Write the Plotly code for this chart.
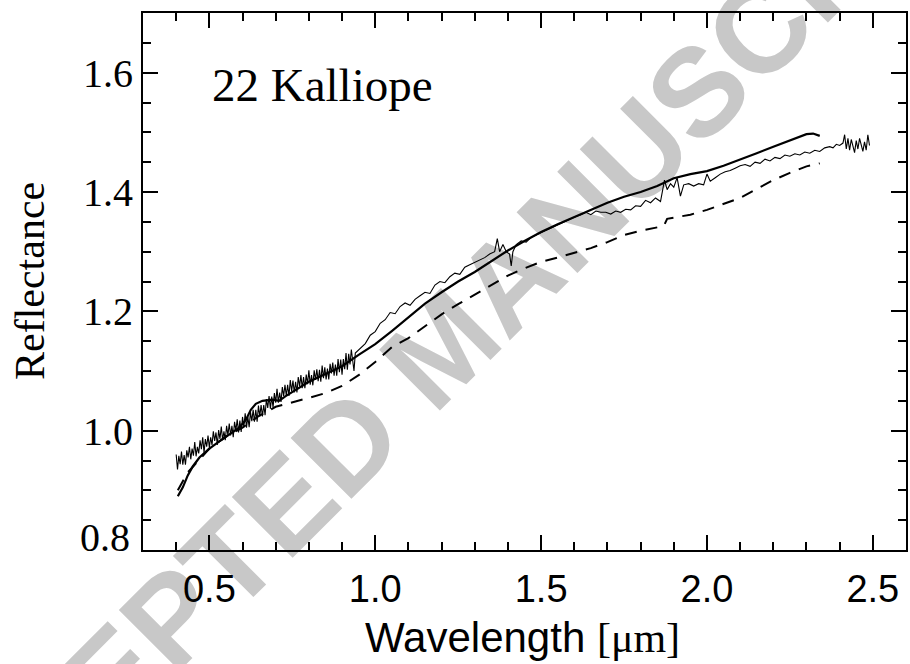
import plotly.graph_objects as go

# ---------------- data ----------------
vis_x = [0.400, 0.404, 0.408, 0.412, 0.416, 0.420, 0.424, 0.428, 0.432, 0.436,
         0.440, 0.444, 0.448, 0.452, 0.456, 0.460, 0.464, 0.468, 0.472, 0.476,
         0.480, 0.484, 0.488, 0.492, 0.496, 0.500, 0.504, 0.508, 0.512, 0.516,
         0.520, 0.524, 0.528, 0.532, 0.536, 0.540, 0.544, 0.548, 0.552, 0.556,
         0.560, 0.564, 0.568, 0.572, 0.576, 0.580, 0.584, 0.588, 0.592, 0.596,
         0.600, 0.604, 0.608, 0.612, 0.616, 0.620, 0.624, 0.628, 0.632, 0.636,
         0.640, 0.644, 0.648, 0.652, 0.656, 0.660, 0.664, 0.668, 0.672, 0.676,
         0.680, 0.684, 0.688, 0.692, 0.696, 0.700, 0.704, 0.708, 0.712, 0.716,
         0.720, 0.724, 0.728, 0.732, 0.736, 0.740, 0.744, 0.748, 0.752, 0.756,
         0.760, 0.764, 0.768, 0.772, 0.776, 0.780, 0.784, 0.788, 0.792, 0.796,
         0.800, 0.804, 0.808, 0.812, 0.816, 0.820, 0.824, 0.828, 0.832, 0.836,
         0.840, 0.844, 0.848, 0.852, 0.856, 0.860, 0.864, 0.868, 0.872, 0.876,
         0.880, 0.884, 0.888, 0.892, 0.896, 0.900, 0.904, 0.908, 0.912, 0.916,
         0.920, 0.924, 0.928, 0.932, 0.936]
vis_y = [0.960, 0.935, 0.958, 0.944, 0.965, 0.943, 0.959, 0.943, 0.967, 0.955,
         0.973, 0.952, 0.970, 0.958, 0.981, 0.957, 0.973, 0.962, 0.984, 0.969,
         0.989, 0.963, 0.986, 0.973, 0.992, 0.972, 0.989, 0.976, 0.999, 0.983,
         0.997, 0.976, 1.001, 0.986, 1.007, 0.984, 0.999, 0.984, 1.008, 0.992,
         1.012, 0.992, 1.008, 0.989, 1.015, 1.000, 1.019, 0.997, 1.017, 0.998,
         1.023, 1.006, 1.029, 1.005, 1.023, 1.006, 1.031, 1.016, 1.035, 1.015,
         1.035, 1.015, 1.042, 1.024, 1.043, 1.024, 1.043, 1.026, 1.053, 1.038,
         1.058, 1.037, 1.057, 1.039, 1.063, 1.047, 1.070, 1.047, 1.064, 1.048,
         1.073, 1.058, 1.077, 1.058, 1.077, 1.058, 1.085, 1.066, 1.084, 1.064,
         1.082, 1.064, 1.090, 1.074, 1.093, 1.071, 1.090, 1.071, 1.094, 1.078,
         1.101, 1.077, 1.093, 1.076, 1.101, 1.085, 1.103, 1.083, 1.102, 1.082,
         1.109, 1.088, 1.106, 1.086, 1.104, 1.086, 1.112, 1.096, 1.114, 1.092,
         1.111, 1.092, 1.120, 1.098, 1.119, 1.094, 1.120, 1.103, 1.130, 1.102,
         1.129, 1.111, 1.136, 1.117, 1.100]

nir_x = [0.940, 0.955, 0.970, 0.985, 1.000, 1.015, 1.030, 1.045, 1.060, 1.075,
         1.090, 1.105, 1.120, 1.135, 1.150, 1.165, 1.180, 1.195, 1.210, 1.225,
         1.240, 1.255, 1.270, 1.285, 1.300, 1.315, 1.330, 1.345, 1.360, 1.368,
         1.375, 1.385, 1.395, 1.405, 1.410, 1.415, 1.425, 1.440, 1.455, 1.470,
         1.485, 1.500, 1.515, 1.530, 1.545, 1.560, 1.575, 1.590, 1.605, 1.620,
         1.635, 1.650, 1.665, 1.680, 1.695, 1.710, 1.725, 1.740, 1.755, 1.770,
         1.785, 1.800, 1.815, 1.830, 1.845, 1.860, 1.872, 1.880, 1.890, 1.900,
         1.910, 1.920, 1.930, 1.945, 1.960, 1.975, 1.990, 2.000, 2.010, 2.025,
         2.040, 2.055, 2.070, 2.085, 2.100, 2.115, 2.130, 2.145, 2.160, 2.175,
         2.190, 2.205, 2.220, 2.235, 2.250, 2.265, 2.280, 2.295, 2.310, 2.325,
         2.340, 2.355, 2.370, 2.380, 2.390, 2.400, 2.410, 2.415, 2.420, 2.425,
         2.430, 2.435, 2.440, 2.445, 2.450, 2.455, 2.460, 2.465, 2.470, 2.475,
         2.480, 2.485, 2.490]
nir_y = [1.130, 1.138, 1.146, 1.160, 1.166, 1.180, 1.186, 1.198, 1.196, 1.208,
         1.214, 1.210, 1.220, 1.226, 1.232, 1.230, 1.244, 1.250, 1.248, 1.258,
         1.264, 1.262, 1.274, 1.278, 1.282, 1.287, 1.290, 1.296, 1.300, 1.322,
         1.300, 1.312, 1.300, 1.296, 1.276, 1.300, 1.312, 1.318, 1.316, 1.324,
         1.328, 1.332, 1.336, 1.340, 1.344, 1.348, 1.352, 1.355, 1.359, 1.362,
         1.366, 1.362, 1.368, 1.366, 1.366, 1.363, 1.368, 1.366, 1.371, 1.370,
         1.377, 1.376, 1.386, 1.382, 1.390, 1.384, 1.420, 1.404, 1.414, 1.408,
         1.424, 1.393, 1.412, 1.414, 1.410, 1.414, 1.412, 1.430, 1.418, 1.424,
         1.430, 1.434, 1.436, 1.440, 1.444, 1.446, 1.443, 1.450, 1.448, 1.455,
         1.452, 1.458, 1.456, 1.462, 1.460, 1.464, 1.462, 1.467, 1.465, 1.470,
         1.468, 1.474, 1.476, 1.474, 1.480, 1.478, 1.482, 1.496, 1.472, 1.490,
         1.470, 1.488, 1.478, 1.466, 1.486, 1.472, 1.490, 1.476, 1.468, 1.484,
         1.470, 1.496, 1.478]

thick_x = [0.405, 0.420, 0.435, 0.450, 0.470, 0.500, 0.530, 0.560, 0.590, 0.610,
           0.625, 0.640, 0.660, 0.690, 0.710, 0.730, 0.760, 0.800, 0.850, 0.900,
           0.950, 1.000, 1.050, 1.100, 1.150, 1.200, 1.250, 1.300, 1.350, 1.400,
           1.450, 1.500, 1.550, 1.600, 1.650, 1.700, 1.750, 1.800, 1.850, 1.880,
           1.900, 1.950, 2.000, 2.050, 2.100, 2.150, 2.200, 2.250, 2.300, 2.320,
           2.340]
thick_y = [0.890, 0.905, 0.925, 0.940, 0.955, 0.970, 0.982, 0.993, 1.005, 1.018,
           1.035, 1.045, 1.050, 1.052, 1.050, 1.058, 1.068, 1.082, 1.095, 1.108,
           1.127, 1.145, 1.167, 1.190, 1.213, 1.232, 1.250, 1.266, 1.284, 1.302,
           1.318, 1.333, 1.346, 1.358, 1.370, 1.382, 1.392, 1.400, 1.410, 1.418,
           1.423, 1.430, 1.435, 1.444, 1.454, 1.465, 1.476, 1.487, 1.497, 1.498,
           1.494]

dash_x = [0.405, 0.435, 0.500, 0.550, 0.600, 0.650, 0.700, 0.750, 0.800, 0.850,
          0.900, 0.950, 1.000, 1.050, 1.100, 1.150, 1.200, 1.250, 1.300, 1.350,
          1.400, 1.450, 1.500, 1.550, 1.600, 1.650, 1.700, 1.750, 1.800, 1.850,
          1.870, 1.880, 1.900, 1.950, 2.000, 2.050, 2.100, 2.150, 2.200, 2.250,
          2.300, 2.340]
dash_y = [0.900, 0.930, 0.970, 0.990, 1.005, 1.025, 1.040, 1.047, 1.055, 1.063,
          1.075, 1.093, 1.115, 1.140, 1.155, 1.175, 1.195, 1.212, 1.228, 1.245,
          1.260, 1.272, 1.283, 1.290, 1.298, 1.306, 1.316, 1.328, 1.335, 1.340,
          1.343, 1.355, 1.357, 1.362, 1.370, 1.380, 1.390, 1.405, 1.420, 1.432,
          1.443, 1.448]

x_ticks = [0.5, 1.0, 1.5, 2.0, 2.5]
x_ticktext = ["0.5", "1.0", "1.5", "2.0", "2.5"]
y_ticks = [0.8, 1.0, 1.2, 1.4, 1.6]
y_ticktext = ["", "1.0", "1.2", "1.4", "1.6"]

# ---------------- figure ----------------
spec_x = vis_x + nir_x
spec_y = vis_y + nir_y

fig = go.Figure()
fig.add_trace(go.Scatter(x=dash_x, y=dash_y, mode="lines",
                         line=dict(color="black", width=2, dash="12px,9px"),
                         showlegend=False, hoverinfo="skip"))
fig.add_trace(go.Scatter(x=spec_x, y=spec_y, mode="lines",
                         line=dict(color="black", width=1.1),
                         showlegend=False, hoverinfo="skip"))
fig.add_trace(go.Scatter(x=thick_x, y=thick_y, mode="lines",
                         line=dict(color="black", width=2.2),
                         showlegend=False, hoverinfo="skip"))

serif = "Liberation Serif, Times New Roman, serif"
sans = "Liberation Sans, Arial, sans-serif"

axis_common = dict(
    showline=True, linecolor="black", linewidth=2, mirror="allticks",
    ticks="inside", tickcolor="black", tickwidth=1.5, ticklen=15,
    showgrid=False, zeroline=False,
)

fig.update_xaxes(
    range=[0.3, 2.6], tickvals=x_ticks, ticktext=x_ticktext,
    tickfont=dict(family=sans, size=38, color="black"),
    ticklabelstandoff=4,
    minor=dict(ticks="inside", dtick=0.1, tick0=0.3, ticklen=8,
               tickcolor="black", tickwidth=1.5, showgrid=False),
    **axis_common,
)
fig.update_yaxes(
    range=[0.8, 1.7], tickvals=y_ticks, ticktext=y_ticktext,
    tickfont=dict(family=serif, size=40, color="black"),
    ticklabelstandoff=0,
    minor=dict(ticks="inside", dtick=0.05, tick0=0.8, ticklen=8,
               tickcolor="black", tickwidth=1.5, showgrid=False),
    **axis_common,
)

wm_cx = (434 - 143) / 763
wm_cy = (550 - 338) / 537

fig.update_layout(
    width=910, height=664,
    margin=dict(l=143, r=4, t=13, b=114, autoexpand=False),
    paper_bgcolor="white", plot_bgcolor="rgba(0,0,0,0)",
    showlegend=False,
    shapes=[dict(
        type="rect", xref="paper", yref="paper",
        x0=wm_cx - 0.01, x1=wm_cx + 0.01, y0=wm_cy - 0.01, y1=wm_cy + 0.01,
        line=dict(width=0), fillcolor="rgba(0,0,0,0)", layer="below",
        label=dict(text="ACCEPTED MANUSCRIPT", textangle=-45,
                   textposition="middle center",
                   font=dict(family=sans, size=125, color="#c8c8c8", weight="bold")),
    )],
    annotations=[
        dict(text="22 Kalliope", xref="paper", yref="paper",
             x=(210 - 143) / 763, y=(550 - 85) / 537, xanchor="left", yanchor="middle",
             showarrow=False, font=dict(family=serif, size=47, color="black")),
        dict(text="0.8", xref="paper", yref="paper",
             x=-11 / 763, y=(550 - 537) / 537, xanchor="right", yanchor="middle",
             showarrow=False, font=dict(family=serif, size=40, color="black")),
        dict(text="Reflectance", xref="paper", yref="paper",
             x=(30 - 143) / 763, y=(550 - 281) / 537, xanchor="center", yanchor="middle",
             textangle=-90, showarrow=False,
             font=dict(family=serif, size=42, color="black")),
        dict(text="Wavelength <span style='font-family:Liberation Serif'>[μm]</span>",
             xref="paper", yref="paper",
             x=(522 - 143) / 763, y=(550 - 637) / 537, xanchor="center", yanchor="middle",
             showarrow=False, font=dict(family=sans, size=42, color="black")),
    ],
)

fig.write_html("out.html", config={"displayModeBar": False},
               post_script="document.body.style.margin='0px';")
